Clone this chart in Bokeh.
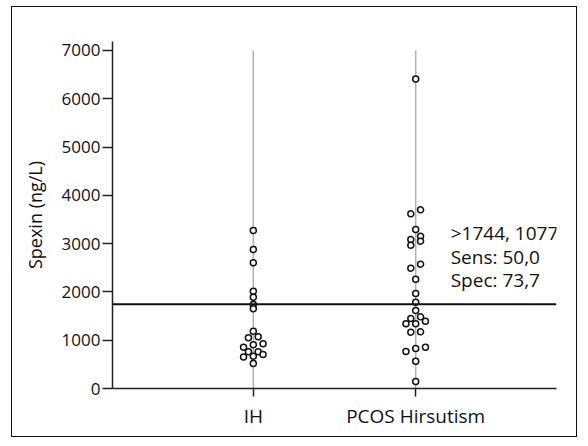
from bokeh.plotting import figure
from bokeh.models import Range1d, FixedTicker, Span, Label
from bokeh.embed import file_html
from bokeh.resources import INLINE

# ---- data ----
categories = ["IH", "PCOS Hirsutism"]
ih_values = [3271, 2878, 2602, 2015, 1890, 1740, 1650, 1187, 1050, 1070,
             855, 905, 925, 760, 760, 650, 670, 705, 518]
ih_offsets = [0, 0, 0, 0, 0, 0, 0, 0, -0.03, 0.03,
              -0.06, 0, 0.06, -0.03, 0.03, -0.06, 0, 0.06, 0]
pcos_values = [6412, 3700, 3617, 3291, 3153, 3085, 3050, 2967, 2574, 2491,
               2263, 1967, 1787, 1615, 1484, 1449, 1393, 1339, 1339, 1173,
               1166, 855, 828, 766, 566, 145]
pcos_offsets = [0, 0.03, -0.03, 0, 0.03, -0.03, 0.03, -0.03, 0.03, -0.03,
                0, 0, 0, 0, 0.03, -0.03, 0.06, -0.06, 0, 0.03,
                -0.03, 0.06, 0, -0.06, 0, 0]
y_ticks = [0, 1000, 2000, 3000, 4000, 5000, 6000, 7000]
cutoff = 1744
annotation_lines = [">1744, 1077", "Sens: 50,0", "Spec: 73,7"]
y_label = "Spexin (ng/L)"

FONT = "Open Sans"
positions = [i + 1 for i in range(len(categories))]

p = figure(width=566, height=431,
           x_range=Range1d(0.133, 2.867), y_range=Range1d(0, 7186),
           output_backend="svg", toolbar_location=None,
           min_border_left=100, min_border_right=22,
           min_border_top=34, min_border_bottom=50,
           styles={"margin-left": "11px", "margin-top": "6px",
                   "border": "1.5px solid #111111"})
p.outline_line_color = None
p.xgrid.visible = False
p.ygrid.visible = False
p.background_fill_color = "white"
p.border_fill_color = "white"

# grey vertical guide lines per group
p.segment(x0=positions, x1=positions, y0=[y_ticks[0]] * len(positions),
          y1=[y_ticks[-1]] * len(positions), line_color="#b0b0b0", line_width=1.5)

# cutoff line
p.add_layout(Span(location=cutoff, dimension="width", line_color="#111111",
                  line_width=2))

# points
for pos, vals, offs in [(positions[0], ih_values, ih_offsets),
                        (positions[1], pcos_values, pcos_offsets)]:
    xs = [pos + o for o in offs]
    p.scatter(xs, vals, size=6, marker="circle", fill_color="white",
              line_color="#111111", line_width=1.5)

# annotation text
for i, txt in enumerate(annotation_lines):
    p.add_layout(Label(x=positions[1], y=cutoff, x_offset=35,
                       y_offset=71 - 23.5 * i, text=txt,
                       text_font=FONT, text_font_size="19px",
                       text_baseline="middle", text_align="left",
                       text_color="#111111"))

# axes
xa = p.xaxis[0]
xa.ticker = FixedTicker(ticks=positions)
xa.major_label_overrides = {pos: c for pos, c in zip(positions, categories)}
xa.axis_line_color = "#222222"
xa.axis_line_width = 1.5
xa.major_tick_line_color = "#222222"
xa.major_tick_line_width = 1.5
xa.major_tick_out = 8
xa.major_tick_in = 0
xa.minor_tick_line_color = None
xa.major_label_standoff = 6
xa.major_label_text_font = FONT
xa.major_label_text_font_size = "19px"
xa.major_label_text_color = "#111111"

ya = p.yaxis[0]
ya.ticker = FixedTicker(ticks=y_ticks)
ya.axis_line_color = "#222222"
ya.axis_line_width = 1.5
ya.major_tick_line_color = "#222222"
ya.major_tick_line_width = 1.5
ya.major_tick_out = 10
ya.major_tick_in = 0
ya.minor_tick_line_color = None
ya.major_label_standoff = 2
ya.major_label_text_font = FONT
ya.major_label_text_font_size = "17px"
ya.major_label_text_color = "#111111"
ya.axis_label = y_label
ya.axis_label_text_font = FONT
ya.axis_label_text_font_size = "18px"
ya.axis_label_text_font_style = "normal"
ya.axis_label_text_color = "#111111"
ya.axis_label_standoff = 12

open("out.html", "w").write(file_html(p, INLINE))
